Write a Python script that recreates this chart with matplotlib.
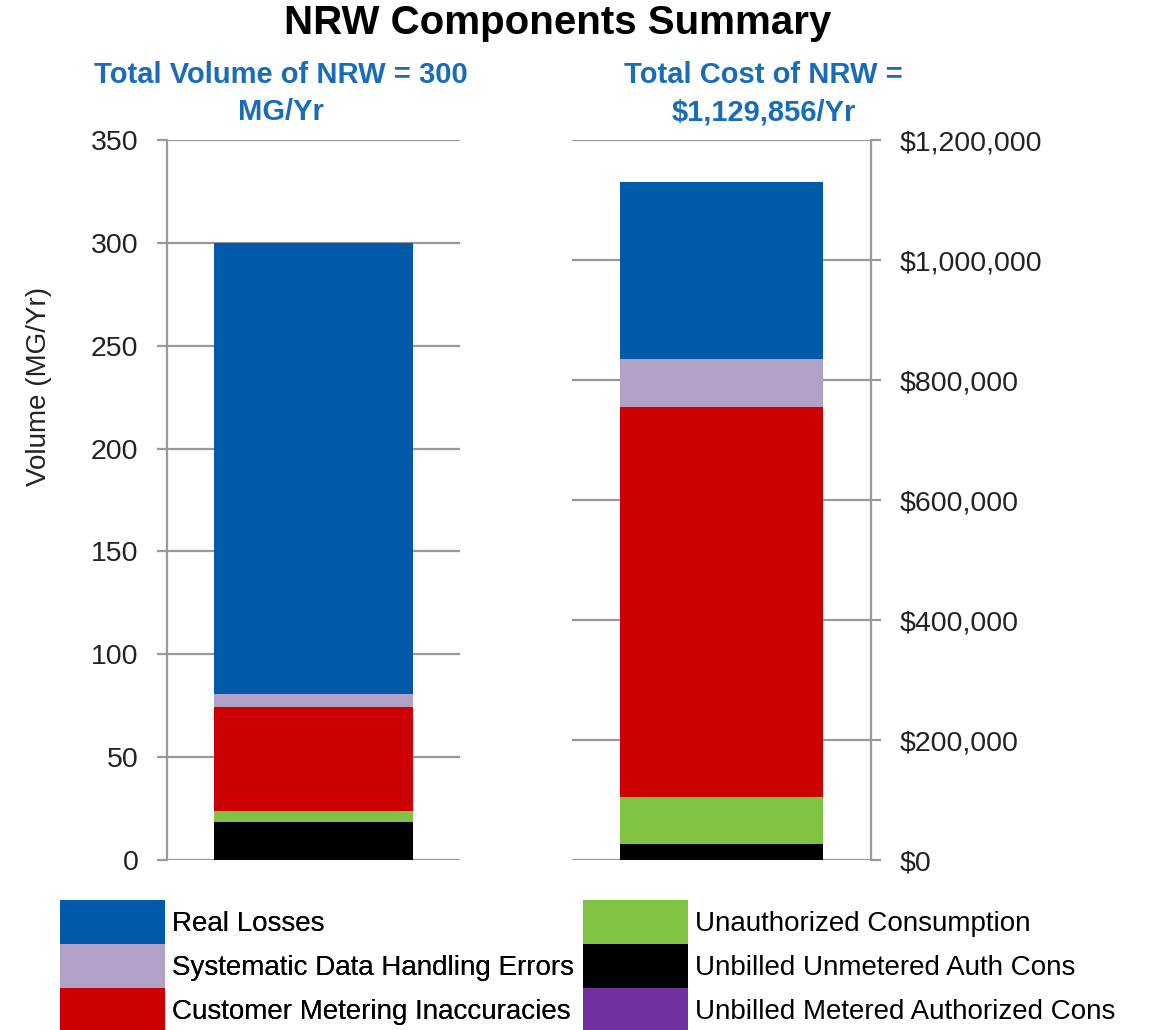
import matplotlib
matplotlib.use("Agg")
import matplotlib.pyplot as plt
from matplotlib.ticker import FuncFormatter

plt.rcParams['font.family'] = ['Liberation Sans', 'DejaVu Sans']

# components, listed top of stack first (legend order)
categories = ['Real Losses', 'Systematic Data Handling Errors', 'Customer Metering Inaccuracies',
              'Unauthorized Consumption', 'Unbilled Unmetered Auth Cons', 'Unbilled Metered Authorized Cons']
colors = ['#005AAA', '#B2A1C7', '#CC0000', '#80C242', '#000000', '#7030A0']

# volume of NRW by component (MG/Yr)
volume = [219.5, 6.0, 50.5, 5.5, 18.5, 0.0]
# cost of NRW by component ($/Yr)
cost = [294856, 80000, 650000, 79000, 26000, 0]

vol_ticks = [0, 50, 100, 150, 200, 250, 300, 350]
cost_ticks = [0, 200000, 400000, 600000, 800000, 1000000, 1200000]

grid_col = '#999999'

fig = plt.figure(figsize=(11.5, 10.3), dpi=100)
ax1 = fig.add_axes([0.1452, 0.165, 0.2548, 0.699])
ax2 = fig.add_axes([0.4974, 0.165, 0.26, 0.699])


def stack(ax, vals, width):
    bottom = 0
    handles = []
    # draw from bottom of stack (end of list) upwards
    for name, v, c in reversed(list(zip(categories, vals, colors))):
        h = ax.bar(0.5, v, width, bottom=bottom, color=c, label=name, zorder=3)
        handles.append(h)
        bottom += v
    return handles[::-1]


handles = stack(ax1, volume, 0.676)
stack(ax2, cost, 0.68)

for ax in (ax1, ax2):
    ax.set_xlim(0, 1)
    ax.set_xticks([])
    ax.set_axisbelow(True)
    ax.yaxis.grid(True, color=grid_col, linewidth=1.6)
    for s in ax.spines.values():
        s.set_visible(False)
    ax.tick_params(axis='y', length=7.5, width=1.6, color=grid_col, pad=13,
                   labelsize=20.5, labelcolor='#222222')

ax1.set_ylim(0, 350)
ax1.set_yticks(vol_ticks)
ax1.spines['left'].set_visible(True)
ax1.spines['left'].set_color(grid_col)
ax1.spines['left'].set_linewidth(1.6)

ax2.set_ylim(0, 1200000)
ax2.set_yticks(cost_ticks)
ax2.yaxis.tick_right()
ax2.spines['right'].set_visible(True)
ax2.spines['right'].set_color(grid_col)
ax2.spines['right'].set_linewidth(1.6)
ax2.yaxis.set_major_formatter(FuncFormatter(lambda v, p: '${:,.0f}'.format(v)))

fig.text(39 / 1150, 1 - 386 / 1030, 'Volume (MG/Yr)', rotation=90, ha='center', va='center',
         fontsize=20, color='#222222')

fig.text(0.485, 0.978, 'NRW Components Summary', ha='center', va='center',
         fontsize=29, fontweight='bold')
fig.text(0.2443, 0.909, 'Total Volume of NRW = 300\nMG/Yr', ha='center', va='center',
         fontsize=21, fontweight='bold', color='#1A6BB8', linespacing=1.4)
fig.text(0.664, 0.909, 'Total Cost of NRW =\n$1,129,856/Yr', ha='center', va='center',
         fontsize=21, fontweight='bold', color='#1A6BB8', linespacing=1.4)

# legend as two columns placed separately
fs = 20
lg_kw = dict(frameon=False, fontsize=fs, loc='upper left', borderpad=0, borderaxespad=0,
             handlelength=105 / (fs * 100 / 72), handleheight=2.06,
             handletextpad=0.25, labelspacing=0)
leg1 = fig.legend(handles[:3], categories[:3], bbox_to_anchor=(60 / 1150, 1 - 900 / 1030), **lg_kw)
fig.add_artist(leg1)
fig.legend(handles[3:], categories[3:], bbox_to_anchor=(583 / 1150, 1 - 900 / 1030), **lg_kw)

fig.savefig('out.png', dpi=100)
